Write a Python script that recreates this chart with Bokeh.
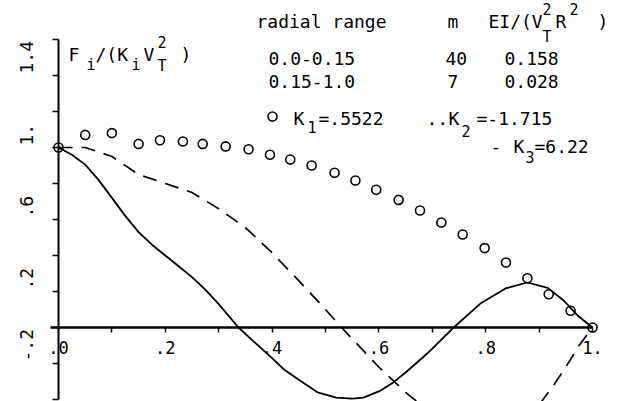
from math import pi

from bokeh.core.properties import value
from bokeh.embed import file_html
from bokeh.models import ColumnDataSource, FixedTicker, Range1d
from bokeh.plotting import figure
from bokeh.resources import INLINE

# Mode shapes F_i/(K_i V_T^2) along the radius r/R

# K1 mode, plotted as open circles
r_k1 = [0.0, 0.05, 0.10, 0.15, 0.19, 0.233, 0.27, 0.313, 0.356, 0.396, 0.434,
        0.474, 0.517, 0.556, 0.595, 0.637, 0.677, 0.717, 0.757, 0.798, 0.838,
        0.878, 0.918, 0.959, 1.0]
f_k1 = [1.0, 1.07, 1.08, 1.02, 1.04, 1.033, 1.02, 1.006, 0.99, 0.96, 0.933,
        0.90, 0.86, 0.817, 0.765, 0.709, 0.65, 0.583, 0.517, 0.441, 0.361,
        0.274, 0.185, 0.093, 0.0]

# K2 mode, dashed
r_k2 = [0.0, 0.05, 0.10, 0.15, 0.20, 0.25, 0.30, 0.35, 0.40, 0.45, 0.50,
        0.53, 0.60, 0.65, 0.70, 0.75, 0.80, 0.85, 0.90, 0.925, 0.95, 0.975, 1.0]
f_k2 = [1.0, 1.0, 0.95, 0.85, 0.80, 0.75, 0.66, 0.555, 0.415, 0.26, 0.10,
        0.0, -0.22, -0.36, -0.48, -0.58, -0.62, -0.57, -0.43, -0.33, -0.22,
        -0.10, 0.0]

# K3 mode, solid
r_k3 = [0.0, 0.025, 0.05, 0.075, 0.10, 0.125, 0.15, 0.175, 0.20, 0.225, 0.25,
        0.275, 0.30, 0.337, 0.37, 0.40, 0.421, 0.45, 0.485, 0.52, 0.55, 0.571,
        0.60, 0.627, 0.65, 0.69, 0.74, 0.79, 0.837, 0.878, 0.916, 0.946,
        0.972, 1.0]
f_k3 = [1.0, 0.96, 0.905, 0.82, 0.72, 0.62, 0.53, 0.46, 0.40, 0.34, 0.28,
        0.21, 0.13, 0.0, -0.09, -0.17, -0.23, -0.29, -0.36, -0.39, -0.395,
        -0.39, -0.355, -0.305, -0.25, -0.146, 0.0, 0.133, 0.217, 0.25, 0.22,
        0.15, 0.067, 0.0]

# axis ticks and labels
x_major = [0.0, 0.2, 0.4, 0.6, 0.8, 1.0]
x_major_labels = [".0", ".2", ".4", ".6", ".8", "1."]
x_minor = [0.1, 0.3, 0.5, 0.7, 0.9]
y_ticks = [-0.4, -0.2, 0.0, 0.2, 0.4, 0.6, 0.8, 1.0, 1.2, 1.4, 1.6]
y_label_vals = [-0.2, 0.2, 0.6, 1.0, 1.4]
y_labels = ["-.2", ".2", ".6", "1.", "1.4"]

# blade stiffness table and mode constants
radial_ranges = ["0.0-0.15", "0.15-1.0"]
m_values = ["40", "7"]
ei_values = ["0.158", "0.028"]
k_values = [".5522", "-1.715", "6.22"]

W, H = 630, 401
X0, XS = 58.0, 534.0   # pixel of r=0, pixels per unit r
Y0, YS = 327.0, 180.0  # pixel of F=0, pixels per unit F


def dx(px):
    return (px - X0) / XS


def dy(py):
    return (Y0 - py) / YS


p = figure(width=W, height=H, output_backend="svg", toolbar_location=None,
           x_range=Range1d(dx(0), dx(W)), y_range=Range1d(dy(H), dy(0)),
           min_border=0, outline_line_color=None, background_fill_color="white")
p.grid.visible = False

FONT = value("DejaVu Sans Mono")

# axes drawn through the data origin
xa = p.xaxis[0]
xa.fixed_location = 0
xa.bounds = (-0.015, 1.0)
xa.ticker = FixedTicker(ticks=x_major, minor_ticks=x_minor)
xa.major_label_overrides = dict(zip(x_major, x_major_labels))
xa.axis_line_width = 2.6
xa.major_tick_in = 0
xa.major_tick_out = 5
xa.minor_tick_in = 0
xa.minor_tick_out = 5
xa.major_tick_line_width = 1.5
xa.minor_tick_line_width = 1.5
xa.major_label_standoff = 8
xa.major_label_text_font = "DejaVu Sans Mono"
xa.major_label_text_font_size = "17px"
xa.major_label_text_color = "black"

ya = p.yaxis[0]
ya.fixed_location = 0
ya.bounds = (-0.4, 1.6)
ya.ticker = FixedTicker(ticks=[], minor_ticks=y_ticks)
ya.axis_line_width = 2.0
ya.minor_tick_in = 0
ya.minor_tick_out = 6
ya.minor_tick_line_width = 1.5

# vertical y tick labels, starting at their tick
p.text(x=[0.0] * len(y_label_vals), y=y_label_vals, text=y_labels,
       angle=pi / 2, x_offset=-32, y_offset=-2, text_align="left",
       text_baseline="middle", text_font=FONT, text_font_size="18px",
       text_color="black")

# the three mode shapes
p.line(r_k3, f_k3, line_color="black", line_width=1.8)
p.line(r_k2, f_k2, line_color="black", line_width=1.7, line_dash="14 9")
p.scatter(r_k1, f_k1, marker="circle", size=9, fill_color=None,
          line_color="black", line_width=1.6)

# annotation text: (text, anchor px, baseline px, alignment)
main_text = [
    ("F", 68, 54, "left"), ("/(K", 95, 54, "left"), ("V", 143, 54, "left"),
    (")", 180, 54, "left"),
    ("radial range", 256, 21, "left"), ("m", 447, 21, "left"),
    ("EI/(V", 488, 21, "left"), ("R", 555, 21, "left"), (")", 597, 21, "left"),
    (radial_ranges[0], 268, 58, "left"), (m_values[0], 445, 58, "left"),
    (ei_values[0], 504, 58, "left"),
    (radial_ranges[1], 268, 81, "left"), (m_values[1], 447, 81, "left"),
    (ei_values[1], 504, 81, "left"),
    ("K", 293, 118, "left"), ("=" + k_values[0], 318, 118, "left"),
    ("..", 426, 118, "left"),
    ("K", 448, 118, "left"), ("=" + k_values[1], 476, 118, "left"),
    ("-", 490, 146, "left"), ("K", 513, 146, "left"),
    ("=" + k_values[2], 534, 146, "left"),
]
script_text = [
    ("i", 86, 64), ("i", 131, 64), ("2", 157, 41), ("T", 157, 65),
    ("2", 542, 8), ("T", 542, 36), ("2", 569, 8),
    ("1", 307, 126), ("2", 461, 130), ("3", 525, 156),
]

main_src = ColumnDataSource(data=dict(
    x=[dx(t[1]) for t in main_text], y=[dy(t[2]) for t in main_text],
    text=[t[0] for t in main_text], align=[t[3] for t in main_text]))
p.text(x="x", y="y", text="text", source=main_src, text_align="align",
       text_baseline="alphabetic", text_font=FONT, text_font_size="18px",
       text_color="black")

script_src = ColumnDataSource(data=dict(
    x=[dx(t[1]) for t in script_text], y=[dy(t[2]) for t in script_text],
    text=[t[0] for t in script_text]))
p.text(x="x", y="y", text="text", source=script_src, text_align="left",
       text_baseline="alphabetic", text_font=FONT, text_font_size="15px",
       text_color="black")

# legend symbol for the K1 mode
p.scatter([dx(272)], [dy(116)], marker="circle", size=9, fill_color=None,
          line_color="black", line_width=1.6)

with open("out.html", "w") as f:
    f.write(file_html(p, INLINE))
